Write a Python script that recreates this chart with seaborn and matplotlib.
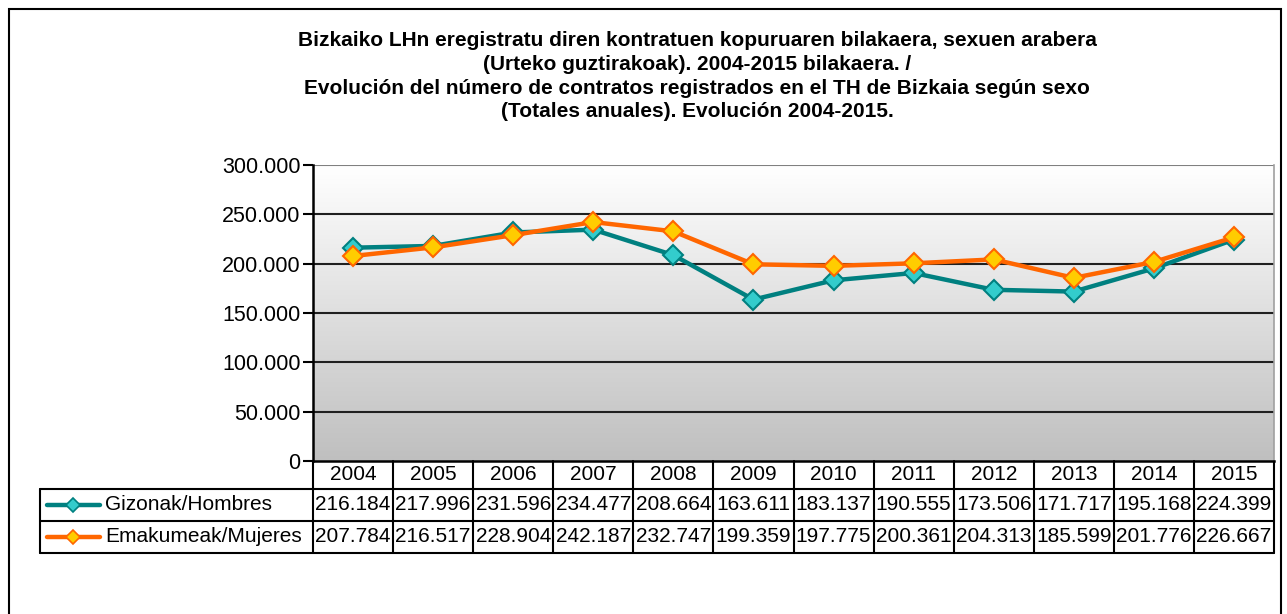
import matplotlib
matplotlib.use("Agg")
import matplotlib.pyplot as plt
import matplotlib.transforms as mtransforms
from matplotlib.lines import Line2D
from matplotlib.patches import Rectangle
import numpy as np
import pandas as pd
import seaborn as sns

years = ["2004", "2005", "2006", "2007", "2008", "2009", "2010", "2011", "2012", "2013", "2014", "2015"]
gizonak = [216184, 217996, 231596, 234477, 208664, 163611, 183137, 190555, 173506, 171717, 195168, 224399]
emakumeak = [207784, 216517, 228904, 242187, 232747, 199359, 197775, 200361, 204313, 185599, 201776, 226667]
series_names = ["Gizonak/Hombres", "Emakumeak/Mujeres"]
title = ("Bizkaiko LHn eregistratu diren kontratuen kopuruaren bilakaera, sexuen arabera\n"
         "(Urteko guztirakoak). 2004-2015 bilakaera. /\n"
         "Evolución del número de contratos registrados en el TH de Bizkaia según sexo\n"
         "(Totales anuales). Evolución 2004-2015.")
yticks = [0, 50000, 100000, 150000, 200000, 250000, 300000]

line_colors = ["#008080", "#ff6600"]
face_colors = ["#33cccc", "#ffcc00"]

df = pd.DataFrame({
    "x": list(range(len(years))) * 2,
    "value": gizonak + emakumeak,
    "serie": [series_names[0]] * len(years) + [series_names[1]] * len(years),
})


def fmt(v):
    return f"{v:,}".replace(",", ".")


sns.set_style("white")
plt.rcParams["font.family"] = ["Liberation Sans", "DejaVu Sans"]
plt.rcParams["text.color"] = "black"
plt.rcParams["ytick.color"] = "black"

W, H = 1287, 614
fig = plt.figure(figsize=(W / 100, H / 100), dpi=100)
ax = fig.add_axes([313 / W, 1 - 461 / H, (1274 - 313) / W, (461 - 165) / H])

# outer frame
fig.patches.append(Rectangle((9 / W, -0.1), (1281 - 9) / W, 1.1 - 9 / H, transform=fig.transFigure,
                             fill=False, edgecolor="black", linewidth=1.5))

# gradient background (grey at the bottom, white at the top)
grad = np.linspace(1, 0, 256).reshape(-1, 1)
cmap = matplotlib.colors.LinearSegmentedColormap.from_list("bg", ["#ffffff", "#bfbfbf"])
ax.imshow(grad, cmap=cmap, aspect="auto", origin="lower", extent=(-0.5, 11.5, 0, 300000), zorder=0)

for i, name in enumerate(series_names):
    sub = df[df["serie"] == name]
    sns.lineplot(data=sub, x="x", y="value", ax=ax, color=line_colors[i], linewidth=3.2,
                 marker="D", markersize=10, markerfacecolor=face_colors[i],
                 markeredgecolor=line_colors[i], markeredgewidth=1.5, zorder=3 + i, legend=False)

ax.set_xlim(-0.5, 11.5)
ax.set_ylim(0, 300000)
ax.set_yticks(yticks)
ax.set_yticklabels([fmt(v) for v in yticks], fontsize=15.5, color="black")
ax.set_xticks([])
ax.set_xlabel("")
ax.set_ylabel("")
for v in yticks[1:]:
    ax.axhline(v, color="#808080" if v == 300000 else "#202020", linewidth=1.5, zorder=1)
ax.tick_params(axis="y", length=7, width=1.5, color="black", direction="out", left=True, pad=2)
ax.spines["left"].set_color("black")
ax.spines["left"].set_linewidth(1.8)
ax.spines["bottom"].set_color("black")
ax.spines["bottom"].set_linewidth(1.8)
ax.spines["right"].set_color("#a0a0a0")
ax.spines["right"].set_linewidth(1.2)
ax.spines["top"].set_visible(False)

fig.text(697 / W, 1 - 31 / H, title, ha="center", va="top", fontsize=15,
         fontweight="bold", linespacing=1.32, color="black")

# data table under the axis
tr = mtransforms.blended_transform_factory(ax.transData, fig.transFigure)
row_y = [461, 489, 521, 553]  # header top, row boundaries (px)
fy = [1 - y / H for y in row_y]
n = len(years)
lw = 1.5
ax.plot([-0.5, 11.5], [fy[1], fy[1]], transform=tr, color="black", lw=lw, clip_on=False)
for y in fy[2:]:
    fig.add_artist(Line2D([40 / W, 1274 / W], [y, y], color="black", lw=lw))
fig.add_artist(Line2D([40 / W, 313 / W], [fy[1], fy[1]], color="black", lw=lw))
fig.add_artist(Line2D([40 / W, 40 / W], [fy[1], fy[3]], color="black", lw=lw))
for k in range(n + 1):
    ax.plot([k - 0.5, k - 0.5], [fy[0], fy[3]], transform=tr, color="black", lw=lw, clip_on=False)

for k, yr in enumerate(years):
    ax.text(k, (fy[0] + fy[1]) / 2, yr, transform=tr, ha="center", va="center", fontsize=15)
    ax.text(k, (fy[1] + fy[2]) / 2, fmt(gizonak[k]), transform=tr, ha="center", va="center", fontsize=15)
    ax.text(k, (fy[2] + fy[3]) / 2, fmt(emakumeak[k]), transform=tr, ha="center", va="center", fontsize=15)

for i, name in enumerate(series_names):
    yc = (fy[1 + i] + fy[2 + i]) / 2
    fig.add_artist(Line2D([47 / W, 100 / W], [yc, yc], color=line_colors[i], lw=3.2))
    fig.add_artist(Line2D([73 / W], [yc], marker="D", markersize=7, markerfacecolor=face_colors[i],
                          markeredgecolor=line_colors[i], markeredgewidth=1.2, linestyle="none"))
    fig.text(105 / W, yc, name, ha="left", va="center", fontsize=15)

fig.savefig("out.png", dpi=100)
